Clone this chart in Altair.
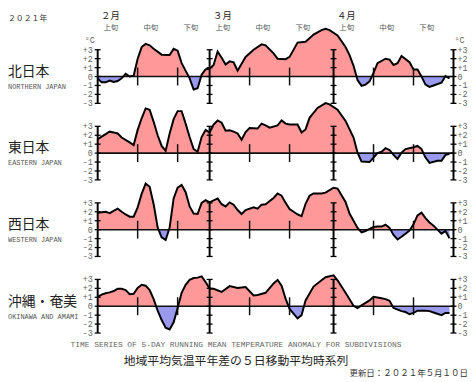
import altair as alt
import pandas as pd

# ---------------- data ----------------
regions_ja = ["北日本", "東日本", "西日本", "沖縄・奄美"]
regions_en = ["NORTHERN JAPAN", "EASTERN JAPAN", "WESTERN JAPAN", "OKINAWA AND AMAMI"]

# day = days since Feb 1, 2021 ; value = 5-day running mean anomaly (deg C)
north_days = [0, 1, 2, 3, 4, 5, 6, 7, 8, 9, 10, 11, 12, 13, 14, 16, 18, 19, 20, 21, 23, 24, 25, 26, 27, 28, 29,
              30, 31, 32, 33, 34, 35, 37, 39, 41, 42, 44, 45, 47, 48, 50, 52, 54, 56, 57, 58, 60, 62, 63, 64,
              65, 66, 67, 68, 69, 70, 72, 73, 74, 75, 76, 78, 79, 80, 81, 82, 83, 84, 86, 87, 88]
north_vals = [-0.2, -0.65, -0.65, -0.45, -0.6, -0.5, -0.2, 0.3, 0.0, 0.1, 2.0, 3.3, 3.65, 3.5, 3.1, 2.45, 2.4,
              3.1, 2.9, 1.5, -0.2, -1.45, -1.3, 0.2, 0.8, 0.9, 1.3, 2.8, 2.1, 1.35, 1.7, 1.6, 0.65, 2.2, 3.0,
              3.6, 3.5, 2.6, 2.0, 1.95, 2.2, 3.8, 3.9, 4.7, 5.2, 5.35, 5.2, 4.6, 3.3, 2.4, 1.2, -0.4, -1.05,
              -0.9, -0.55, 0.4, 1.5, 2.0, 1.9, 1.3, 1.5, 2.3, 1.6, 0.8, 0.8, 0.0, -0.9, -1.15, -1.0, -0.7,
              0.05, -0.2]

east_days = [0, 1, 3, 4, 5, 6, 8, 9, 10, 11, 12, 13, 14, 15, 16, 17, 18, 19, 20, 21, 22, 23, 24, 25, 26, 27,
             28, 29, 30, 31, 32, 33, 34, 35, 36, 37, 38, 40, 41, 42, 43, 45, 46, 47, 48, 50, 51, 52, 53, 55,
             57, 58, 60, 62, 64, 65, 66, 68, 69, 70, 71, 72, 73, 74, 75, 76, 77, 79, 80, 81, 82, 83, 85, 86,
             87, 88]
east_vals = [1.55, 1.85, 2.4, 2.3, 2.2, 1.75, 1.2, 0.9, 2.6, 3.9, 5.0, 4.85, 3.5, 2.0, 0.8, 0.25, 2.2, 3.8,
             4.7, 4.7, 3.3, 1.8, 0.45, 0.15, 1.8, 2.6, 2.3, 3.2, 3.65, 3.4, 2.5, 2.55, 2.4, 2.2, 1.5, 2.35,
             2.8, 2.75, 3.3, 3.1, 2.85, 3.1, 3.65, 3.3, 3.2, 3.2, 2.3, 2.65, 3.95, 5.05, 5.6, 5.45, 4.85, 3.6,
             1.75, 0.05, -0.95, -1.0, -0.5, 0.0, 0.15, 0.55, 0.35, -0.2, -0.65, 0.05, 0.45, 0.65, 0.8, 0.45,
             -0.5, -1.1, -0.85, -0.85, -0.2, -0.1]

west_days = [0, 2, 3, 5, 6, 7, 8, 9, 10, 11, 12, 13, 14, 15, 16, 17, 18, 19, 20, 21, 22, 23, 24, 25, 26, 27,
             28, 30, 31, 32, 33, 34, 35, 36, 37, 39, 40, 41, 42, 44, 45, 46, 47, 48, 50, 51, 52, 53, 54, 56,
             57, 59, 60, 62, 63, 64, 65, 66, 67, 68, 69, 70, 71, 72, 73, 74, 75, 76, 77, 78, 79, 80, 81, 82,
             83, 84, 85, 86, 87, 88]
west_vals = [1.9, 2.0, 1.85, 2.35, 2.0, 1.7, 1.45, 1.45, 2.5, 4.0, 5.15, 4.8, 2.85, 0.25, -0.85, -1.15, 0.25,
             3.5, 4.7, 5.0, 4.2, 2.6, 1.8, 1.75, 3.0, 3.3, 3.05, 3.5, 2.85, 2.6, 3.05, 2.8, 2.2, 1.75, 2.2,
             2.5, 2.35, 2.8, 2.85, 3.55, 4.05, 3.8, 3.0, 2.3, 1.7, 1.5, 2.9, 3.8, 4.05, 4.05, 4.15, 4.7, 4.6,
             3.1, 1.8, 1.0, 0.2, -0.3, -0.15, 0.1, 0.3, 0.35, 0.35, 0.55, 0.2, -0.6, -1.1, -0.8, -0.45, -0.1,
             0.6, 1.6, 1.9, 1.3, 0.8, 0.45, 0.0, -0.45, -0.15, -0.95]

oki_days = [0, 1, 2, 3, 4, 5, 6, 7, 8, 9, 10, 11, 12, 13, 14, 15, 16, 17, 18, 19, 20, 21, 22, 23, 24, 25, 26,
            27, 28, 29, 31, 33, 35, 37, 39, 40, 42, 44, 45, 46, 47, 48, 50, 51, 52, 54, 56, 57, 59, 60, 62,
            64, 65, 66, 68, 69, 71, 72, 73, 74, 76, 77, 78, 79, 80, 82, 83, 84, 86, 87, 88]
oki_vals = [1.05, 1.3, 1.45, 1.55, 1.7, 1.95, 1.95, 1.8, 1.35, 1.4, 2.05, 2.4, 2.3, 1.8, 0.8, -0.5, -1.55,
            -2.4, -2.6, -1.8, -0.2, 1.5, 2.4, 2.95, 3.15, 3.2, 3.35, 2.7, 1.95, 1.95, 1.6, 2.25, 2.05, 2.15,
            1.2, 1.25, 1.5, 2.55, 2.95, 2.3, 0.85, -0.3, -1.35, -1.0, 0.65, 2.2, 2.9, 3.25, 3.45, 2.9, 1.5,
            0.05, -0.2, 0.1, 0.65, 1.05, 0.9, 0.8, 0.6, -0.2, -0.55, -0.65, -0.9, -0.75, -0.5, -0.5, -0.55,
            -0.7, -1.0, -0.75, -0.75]

month_labels = ["２月", "３月", "４月"]
month_start_days = [0, 28, 59]
dekad_labels = ["上旬", "中旬", "下旬"]
dekad_offsets = [0, 10, 20]
axis_days = [0, 28, 59, 89]
ytick_values = [3, 2, 1, 0, -1, -2, -3]
ytick_labels = ["+3", "+2", "+1", "0", "-1", "-2", "-3"]

# ---------------- layout constants ----------------
W, H = 466, 374
PX_PER_DAY = 4.05
X0 = 90.85            # svg x of day 0
PX_PER_DEG = 9.05
Y0 = 67.0             # svg y of the first panel's zero line
X_DOMAIN = [-X0 / PX_PER_DAY, (W - X0) / PX_PER_DAY]
Y_DOMAIN = [(Y0 - H) / PX_PER_DEG, Y0 / PX_PER_DEG]
PANEL_STEP = 8.57
END_DAY = 89
POS_COLOR = "#ff9999"
NEG_COLOR = "#9999ee"
JP_FONT = "Noto Sans CJK JP"
MONO = "Liberation Mono"

xs = alt.Scale(domain=X_DOMAIN, nice=False, zero=False)
ys = alt.Scale(domain=Y_DOMAIN, nice=False, zero=False)

series = [(north_days, north_vals), (east_days, east_vals), (west_days, west_vals), (oki_days, oki_vals)]

area_rows, line_rows = [], []
for k, (ds, vs) in enumerate(series):
    off = -k * PANEL_STEP
    pts = []
    for i, (d, v) in enumerate(zip(ds, vs)):
        if i > 0:
            d0, v0 = ds[i - 1], vs[i - 1]
            if v0 * v < 0:
                pts.append((d0 + (d - d0) * v0 / (v0 - v), 0.0))
        pts.append((d, v))
    for d, v in pts:
        area_rows.append({"region": regions_en[k], "day": d, "pos": off + max(v, 0.0),
                          "neg": off + min(v, 0.0), "base": off})
    for d, v in zip(ds, vs):
        line_rows.append({"region": regions_en[k], "day": d, "y": off + v})
area_df = pd.DataFrame(area_rows)
line_df = pd.DataFrame(line_rows)

axis_rows, tick_rows, zero_rows, dek_rows, lab_rows = [], [], [], [], []
for k in range(4):
    off = -k * PANEL_STEP
    zero_rows.append({"day": 0, "end": END_DAY, "y": off})
    for d in axis_days:
        axis_rows.append({"day": d, "y1": off - 3, "y2": off + 3})
        for v in ytick_values:
            tick_rows.append({"day": d, "y": off + v})
    for m in month_start_days:
        for o in dekad_offsets[1:]:
            dek_rows.append({"day": m + o, "y1": off - 1, "y2": off + 1})
    for v, t in zip(ytick_values, ytick_labels):
        lab_rows.append({"y": off + v, "label": t, "l": 0, "r": END_DAY})
axis_df = pd.DataFrame(axis_rows)
tick_df = pd.DataFrame(tick_rows)
zero_df = pd.DataFrame(zero_rows)
dek_df = pd.DataFrame(dek_rows)
lab_df = pd.DataFrame(lab_rows)

X = alt.X("day:Q", scale=xs, axis=None)

area_pos = alt.Chart(area_df).mark_area(color=POS_COLOR).encode(
    x=X, y=alt.Y("pos:Q", scale=ys, axis=None), y2="base:Q", detail="region:N")
area_neg = alt.Chart(area_df).mark_area(color=NEG_COLOR).encode(
    x=X, y=alt.Y("neg:Q", scale=ys, axis=None), y2="base:Q", detail="region:N")
zero_line = alt.Chart(zero_df).mark_rule(color="#111111", strokeWidth=1.6).encode(
    x=X, x2="end:Q", y=alt.Y("y:Q", scale=ys, axis=None))
dek_ticks = alt.Chart(dek_df).mark_rule(color="#111111", strokeWidth=1.5).encode(
    x=X, y=alt.Y("y1:Q", scale=ys, axis=None), y2="y2:Q")
data_line = alt.Chart(line_df).mark_line(color="black", strokeWidth=2).encode(
    x=X, y=alt.Y("y:Q", scale=ys, axis=None), detail="region:N")
axes = alt.Chart(axis_df).mark_rule(color="black", strokeWidth=2).encode(
    x=X, y=alt.Y("y1:Q", scale=ys, axis=None), y2="y2:Q")
ticks = alt.Chart(tick_df).mark_rule(color="black", strokeWidth=1.3, xOffset=-3, x2Offset=3).encode(
    x=X, x2="day:Q", y=alt.Y("y:Q", scale=ys, axis=None))

lab_left = alt.Chart(lab_df).mark_text(align="right", baseline="middle", dx=-5, font=MONO,
                                       fontSize=8.5, color="#666666").encode(
    x=alt.X("l:Q", scale=xs, axis=None),
    y=alt.Y("y:Q", scale=ys, axis=None), text="label:N")
lab_right = alt.Chart(lab_df).mark_text(align="left", baseline="middle", dx=4, font=MONO,
                                        fontSize=8.5, color="#666666").encode(
    x=alt.X("r:Q", scale=xs, axis=None),
    y=alt.Y("y:Q", scale=ys, axis=None), text="label:N")

degc_df = pd.DataFrame({"day": [0, END_DAY], "y": [4.1, 4.1], "label": ["°C", "°C"],
                        "side": ["l", "r"]})
degc_l = alt.Chart(degc_df[degc_df.side == "l"]).mark_text(
    align="right", baseline="middle", dx=-3, font=MONO, fontSize=8.5, color="#666666").encode(
    x=X, y=alt.Y("y:Q", scale=ys, axis=None), text="label:N")
degc_r = alt.Chart(degc_df[degc_df.side == "r"]).mark_text(
    align="left", baseline="middle", dx=1, font=MONO, fontSize=8.5, color="#666666").encode(
    x=X, y=alt.Y("y:Q", scale=ys, axis=None), text="label:N")

month_df = pd.DataFrame({"day": [m + 3.2 for m in month_start_days], "label": month_labels})
months = alt.Chart(month_df).mark_text(align="center", baseline="alphabetic", font=JP_FONT,
                                       fontSize=9.5, color="#222222").encode(
    x=X, y=alt.value(8.5), text="label:N")
dek_lab_df = pd.DataFrame({"day": [m + o + 3.3 for m in month_start_days for o in dekad_offsets],
                           "label": dekad_labels * len(month_start_days)})
dek_labels = alt.Chart(dek_lab_df).mark_text(align="center", baseline="middle", font=JP_FONT,
                                             fontSize=7.5, color="#555555").encode(
    x=X, y=alt.value(17.5), text="label:N")

name_y = [62, 139, 217, 295]
names_df = pd.DataFrame({"ja": regions_ja, "en": regions_en, "py": name_y,
                         "py2": [v + 16 for v in name_y]})
names = alt.Chart(names_df).mark_text(align="left", baseline="middle", font=JP_FONT,
                                      fontSize=14, color="#222222").encode(
    x=alt.value(0), y=alt.Y("py:Q", scale=None), text="ja:N")
names_en = alt.Chart(names_df).mark_text(align="left", baseline="middle", font=MONO,
                                         fontSize=7, color="#555555").encode(
    x=alt.value(0), y=alt.Y("py2:Q", scale=None), text="en:N")

texts_df = pd.DataFrame({
    "t": ["２０２１年", "TIME SERIES OF 5-DAY RUNNING MEAN TEMPERATURE ANOMALY FOR SUBDIVISIONS",
          "地域平均気温平年差の５日移動平均時系列", "更新日：２０２１年５月１０日"],
    "px": [0, 231, 231, 466], "py": [8.5, 339, 355, 367],
    "align": ["left", "center", "center", "right"],
    "font": [JP_FONT, MONO, JP_FONT, JP_FONT],
    "size": [8, 8, 12, 8.6],
    "col": ["#333333", "#666666", "#222222", "#333333"],
})
other_texts = []
for _, r in texts_df.iterrows():
    other_texts.append(
        alt.Chart(pd.DataFrame([r])).mark_text(align=r["align"], baseline="middle", font=r["font"],
                                               fontSize=float(r["size"]), color=r["col"]).encode(
            x=alt.X("px:Q", scale=None), y=alt.Y("py:Q", scale=None), text="t:N"))

chart = alt.layer(
    area_pos, area_neg, zero_line, dek_ticks, data_line, axes, ticks,
    lab_left, lab_right, degc_l, degc_r, months, dek_labels, names, names_en, *other_texts
).properties(
    width=W, height=H, autosize=alt.AutoSizeParams(type="none"), padding=0,
    background="white"
).configure_view(stroke=None)

chart.save("out.html", embed_options={"renderer": "svg", "actions": False})
